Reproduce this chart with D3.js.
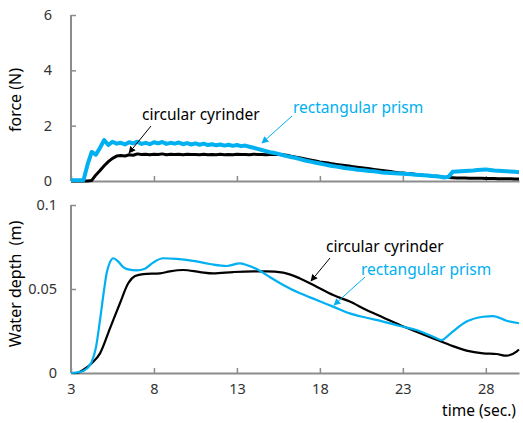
<!DOCTYPE html>
<html><head><meta charset="utf-8">
<script src="https://cdn.jsdelivr.net/npm/d3@7"></script>
<style>body{margin:0;background:#fff}svg{display:block}text{font-family:"Noto Sans",sans-serif}</style>
</head><body><svg id="c" width="523" height="423"></svg>
<script>
// ---- data ----
const forceStart = 3, forceStep = 0.25;
const forceRect = [0.03,0.03,0.03,0.03,0.6,1.05,0.95,1.2,1.48,1.3,1.42,1.35,1.38,1.32,1.4,1.36,1.42,1.34,1.38,1.33,1.4,1.36,1.41,1.34,1.38,1.35,1.39,1.33,1.37,1.32,1.36,1.31,1.35,1.3,1.33,1.29,1.32,1.28,1.31,1.27,1.3,1.26,1.28,1.24,1.2,1.16,1.12,1.08,1.04,1.01,0.98,0.94,0.9,0.87,0.84,0.8,0.76,0.72,0.69,0.66,0.63,0.6,0.57,0.54,0.52,0.5,0.47,0.45,0.43,0.41,0.4,0.38,0.36,0.35,0.33,0.31,0.3,0.29,0.28,0.27,0.26,0.25,0.24,0.23,0.22,0.21,0.2,0.18,0.17,0.15,0.13,0.15,0.33,0.34,0.35,0.36,0.37,0.38,0.4,0.41,0.42,0.4,0.38,0.37,0.36,0.35,0.34,0.33,0.32];
const forceCirc = [0,0,0,0,0,0.02,0.22,0.38,0.55,0.7,0.82,0.9,0.92,0.9,0.95,0.93,0.98,0.96,0.97,0.95,0.97,0.96,0.98,0.95,0.97,0.96,0.97,0.95,0.97,0.96,0.96,0.95,0.97,0.95,0.96,0.95,0.97,0.95,0.96,0.95,0.97,0.96,0.96,0.95,0.97,0.96,0.96,0.95,0.96,0.96,0.96,0.95,0.93,0.9,0.87,0.84,0.81,0.78,0.75,0.72,0.69,0.67,0.65,0.62,0.6,0.58,0.56,0.54,0.52,0.5,0.48,0.46,0.44,0.42,0.4,0.38,0.36,0.34,0.32,0.3,0.29,0.27,0.26,0.24,0.23,0.21,0.2,0.18,0.17,0.16,0.14,0.13,0.12,0.11,0.11,0.11,0.1,0.1,0.1,0.1,0.09,0.09,0.09,0.08,0.08,0.08,0.08,0.07,0.07];
const depthRectT = [3,3.5,4,4.25,4.5,4.75,5.0,5.15,5.35,5.55,5.85,6.15,6.45,6.95,7.45,7.95,8.55,9.36,10.36,11.37,12.38,13.18,13.58,14.38,15.0,15.79,16.8,17.8,18.8,19.8,20.81,21.81,22.82,23.82,24.83,25.33,25.83,26.84,27.84,28.44,29.25,30];
const depthRectV = [0,0.0005,0.003,0.0067,0.015,0.0316,0.05,0.0595,0.066,0.0683,0.0663,0.063,0.0617,0.0611,0.0621,0.0657,0.0683,0.0679,0.0667,0.0649,0.0637,0.0653,0.0643,0.0609,0.057,0.0524,0.0474,0.0435,0.0395,0.0355,0.0329,0.0306,0.028,0.0256,0.0216,0.0196,0.0232,0.0306,0.0335,0.0339,0.0311,0.0296];
const depthCircT = [3,3.35,3.75,4.25,4.75,5.35,5.95,6.45,6.86,7.36,8.36,8.96,9.76,10.77,11.57,12.78,13.98,14.79,15.79,16.8,17.8,18.8,19.8,20.81,21.81,22.82,23.82,24.83,25.83,26.84,27.84,28.64,29.25,29.85,30];
const depthCircV = [0,0,0.002,0.0058,0.0117,0.0266,0.0415,0.0534,0.0577,0.0589,0.0593,0.0605,0.0613,0.0601,0.0593,0.0601,0.0605,0.0605,0.0597,0.0563,0.0514,0.0464,0.0425,0.0375,0.0331,0.0286,0.0246,0.0206,0.0167,0.0133,0.0117,0.0113,0.0103,0.0127,0.014];
const xTicks = [3,8,13,18,23,28];
const forceTicks = [0,2,4,6];
const depthTicks = [0,0.05,0.1];
const depthTickLabels = ["0","0.05","0.1"];

// ---- drawing ----
const svg = d3.select("#c");
const blue = "#00B0F0", axisCol = "#8c8c8c", txt = "#333";
const x = d3.scaleLinear().domain([3,30]).range([71,519]);
const yF = d3.scaleLinear().domain([0,6]).range([181,15]);
const yD = d3.scaleLinear().domain([0,0.1]).range([373,205]);

function axes(y, ticks, labels, showX, labelRight){
  const gx = svg.append("g").attr("transform",`translate(0,${y.range()[0]})`)
    .call(d3.axisBottom(x).tickValues(xTicks).tickSizeInner(-5).tickSizeOuter(0).tickPadding(11)
      .tickFormat(showX ? d3.format("d") : () => ""));
  const gy = svg.append("g").attr("transform",`translate(71,0)`)
    .call(d3.axisLeft(y).tickValues(ticks).tickSizeInner(-5).tickSizeOuter(0).tickPadding(labelRight)
      .tickFormat((d,i)=>labels[i]));
  [gx,gy].forEach(g=>{
    g.select(".domain").attr("stroke",axisCol).attr("stroke-width",2);
    g.selectAll(".tick line").attr("stroke",axisCol).attr("stroke-width",1.5);
    g.selectAll("text").attr("fill",txt).style("font-size","14.5px").style("font-family","Noto Sans");
  });
  gx.selectAll(".tick line").attr("y2",-5);
  gy.select(".domain").attr("d",`M0,${y.range()[0]}V${y.range()[1]}`);
  gy.selectAll(".tick line").attr("x2",5);
}
axes(yF, forceTicks, forceTicks.map(String), false, 19);
axes(yD, depthTicks, depthTickLabels, true, 14);

const ft = forceRect.map((d,i)=>forceStart+i*forceStep);
const lineF = d3.line().x(d=>x(d[0])).y(d=>yF(d[1]));
svg.append("path").attr("d",lineF(ft.map((t,i)=>[t,forceCirc[i]]))).attr("fill","none").attr("stroke","#000").attr("stroke-width",3).attr("stroke-linejoin","round");
svg.append("path").attr("d",lineF(ft.map((t,i)=>[t,forceRect[i]]))).attr("fill","none").attr("stroke",blue).attr("stroke-width",4).attr("stroke-linejoin","round");

const lineD = d3.line().x(d=>x(d[0])).y(d=>yD(d[1])).curve(d3.curveMonotoneX);
svg.append("path").attr("d",lineD(depthCircT.map((t,i)=>[t,depthCircV[i]]))).attr("fill","none").attr("stroke","#000").attr("stroke-width",2.2);
svg.append("path").attr("d",lineD(depthRectT.map((t,i)=>[t,depthRectV[i]]))).attr("fill","none").attr("stroke",blue).attr("stroke-width",2.2);

// arrowheads
const defs = svg.append("defs");
[["ab","#000"],["ac",blue]].forEach(([id,c])=>{
  defs.append("marker").attr("id",id).attr("viewBox","0 0 10 10").attr("refX",9).attr("refY",5)
    .attr("markerWidth",7).attr("markerHeight",7).attr("orient","auto").attr("markerUnits","userSpaceOnUse")
    .append("path").attr("d","M0,0L10,5L0,10Z").attr("fill",c);
});
function note(tx,ty,label,col,x1,y1,x2,y2,mk){
  svg.append("text").attr("x",tx).attr("y",ty).attr("fill",col).style("font-size","15.5px").text(label);
  svg.append("line").attr("x1",x1).attr("y1",y1).attr("x2",x2).attr("y2",y2).attr("stroke",col).attr("stroke-width",1).attr("marker-end",`url(#${mk})`);
}
note(142,120,"circular cyrinder","#000",151,126,129,153,"ab");
note(293,113,"rectangular prism",blue,292,116,262,143,"ac");
note(326,252,"circular cyrinder","#000",330,258,311,281,"ab");
note(361,275,"rectangular prism",blue,365,277,334,305,"ac");

// axis titles
svg.append("text").attr("transform","translate(21,100) rotate(-90)").attr("text-anchor","middle").attr("fill","#000").style("font-size","16px").text("force (N)");
svg.append("text").attr("transform","translate(21,284) rotate(-90)").attr("text-anchor","middle").attr("fill","#000").style("font-size","16px").style("white-space","pre").text("Water depth  (m)");
svg.append("text").attr("x",516).attr("y",416).attr("text-anchor","end").attr("fill","#000").style("font-size","15.5px").text("time (sec.)");
</script></body></html>
